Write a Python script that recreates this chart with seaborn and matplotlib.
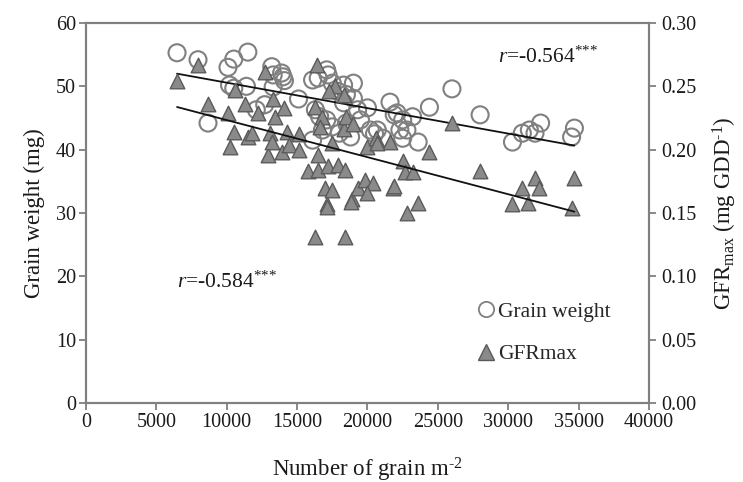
import numpy as np
import pandas as pd
import seaborn as sns
import matplotlib
matplotlib.use('Agg')
import matplotlib.pyplot as plt
from matplotlib.lines import Line2D

# grain weight (mg) vs number of grain m-2
gw_x = [6470, 7960, 10090, 10500, 11500, 10200, 10500, 11400, 8670, 12100,
        12700, 13200, 13300, 14000, 14100, 13300, 15100, 16100, 16500, 17100,
        17200, 17500, 18300, 19000, 16300, 16600, 17100, 17500, 16100, 16800,
        18300, 18500, 19300, 19500, 20000, 20200, 20700, 21600, 22100, 22500,
        22300, 19000, 18500, 17900, 26000, 21900, 22800, 22500, 23200, 23600,
        24400, 28000, 30300, 31000, 31500, 31900, 32300, 34500, 34700, 13900,
        21100, 18800, 18000, 20500]
gw_y = [55.3, 54.2, 53.0, 54.3, 55.4, 50.2, 49.7, 50.0, 44.2, 46.3,
        47.1, 53.1, 51.8, 51.5, 50.9, 49.9, 48.0, 51.0, 51.3, 52.6,
        51.8, 50.5, 50.2, 50.5, 46.3, 45.2, 44.7, 43.6, 41.5, 43.1,
        47.4, 44.2, 46.3, 44.7, 46.6, 43.1, 43.1, 47.5, 45.8, 44.7,
        43.1, 48.1, 48.7, 49.2, 49.6, 45.5, 43.1, 41.8, 45.2, 41.2,
        46.7, 45.5, 41.2, 42.6, 43.1, 42.6, 44.2, 42.0, 43.4, 52.1,
        41.8, 42.0, 42.6, 42.5]

# GFRmax (mg GDD-1) vs number of grain m-2
gfr_x = [6470, 7960, 8670, 10100, 10500, 10200, 10600, 11300, 11500, 11800,
         12200, 12700, 12900, 13300, 13400, 13100, 13200, 13900, 14100, 14300,
         14400, 15100, 15100, 15800, 16400, 16300, 16500, 16500, 16800, 17000,
         17100, 17200, 17500, 17700, 17900, 18300, 18400, 18500, 18900, 19000,
         19300, 19800, 20000, 20400, 20600, 21600, 21800, 22500, 22700, 22800,
         16300, 18400, 17100, 18800, 20000, 21900, 23200, 23600, 24400, 26000,
         28000, 30300, 31000, 31400, 31900, 32200, 34700, 34500, 17300, 18300,
         16600, 17500, 20700]
gfr_y = [0.254, 0.267, 0.236, 0.229, 0.214, 0.202, 0.247, 0.236, 0.210, 0.213,
         0.229, 0.261, 0.196, 0.240, 0.226, 0.213, 0.206, 0.198, 0.233, 0.214,
         0.204, 0.212, 0.200, 0.183, 0.267, 0.234, 0.196, 0.184, 0.226, 0.170,
         0.157, 0.187, 0.168, 0.250, 0.188, 0.216, 0.184, 0.226, 0.161, 0.220,
         0.170, 0.176, 0.202, 0.174, 0.209, 0.206, 0.170, 0.191, 0.182, 0.150,
         0.131, 0.131, 0.155, 0.159, 0.166, 0.171, 0.182, 0.158, 0.198, 0.221,
         0.183, 0.157, 0.170, 0.158, 0.178, 0.170, 0.178, 0.154, 0.246, 0.243,
         0.218, 0.205, 0.205]

gw = pd.DataFrame({'grain': gw_x, 'weight': gw_y})
gfr = pd.DataFrame({'grain': gfr_x, 'gfr': gfr_y})

sns.set_theme(style='white')
plt.rcParams['font.family'] = ['Liberation Serif', 'DejaVu Serif']
plt.rcParams['mathtext.fontset'] = 'custom'
plt.rcParams['mathtext.rm'] = 'Liberation Serif'
plt.rcParams['mathtext.it'] = 'Liberation Serif:italic'

grey = '#808080'
txt = '#1a1a1a'
fig = plt.figure(figsize=(7.43, 4.82), dpi=100)
ax = fig.add_axes([0.1157, 0.1639, 0.7578, 0.7884])
ax2 = ax.twinx()

sns.scatterplot(data=gw, x='grain', y='weight', ax=ax, marker='o', s=150,
                facecolor='none', edgecolor=grey, linewidth=1.5, zorder=3)
sns.regplot(data=gw, x='grain', y='weight', ax=ax, scatter=False, ci=None,
            truncate=True, line_kws={'color': '#111111', 'lw': 1.3, 'zorder': 4})

sns.scatterplot(data=gfr, x='grain', y='gfr', ax=ax2, marker='^', s=110,
                color='#8a8a8a', edgecolor='#5a5a5a', linewidth=1.0, zorder=3)
sns.regplot(data=gfr, x='grain', y='gfr', ax=ax2, scatter=False, ci=None,
            truncate=True, line_kws={'color': '#111111', 'lw': 1.3, 'zorder': 4})

ax.set_xlim(0, 40000)
ax.set_ylim(0, 60)
ax2.set_ylim(0, 0.30)
ax.set_xticks(range(0, 40001, 5000))
ax.set_yticks(range(0, 61, 10))
ax2.set_yticks(np.arange(0, 0.301, 0.05))
ax2.set_yticklabels(['%.2f' % t for t in np.arange(0, 0.301, 0.05)])

for a in (ax, ax2):
    for sp in a.spines.values():
        sp.set_color(grey)
        sp.set_linewidth(1.5)
    a.tick_params(colors=grey, labelcolor=txt, labelsize=14.5,
                  length=5, width=1.3, direction='out', pad=2)
ax.tick_params(axis='both', which='both', bottom=True, left=True)
ax2.tick_params(axis='y', right=True, pad=4)

ax.set_xlabel('Number of grain m$^{\\text{-2}}$', fontsize=16.5, labelpad=17, color=txt)
ax.set_ylabel('Grain weight (mg)', fontsize=16.5, labelpad=8, color=txt)
ax2.set_ylabel('GFR$_{\\mathrm{max}}$ (mg GDD$^{\\text{-1}}$)', fontsize=16.5, labelpad=10,
               color=txt)

ax.text(29300, 54.6, '$\\mathit{r}$=-0.564$^{\\text{***}}$', fontsize=15.5, va='center',
        color=txt)
ax.text(6500, 19.1, '$\\mathit{r}$=-0.584$^{\\text{***}}$', fontsize=15.5, va='center',
        color=txt)

handles = [Line2D([], [], marker='o', ls='none', markersize=11, markerfacecolor='none',
                  markeredgecolor=grey, markeredgewidth=1.3),
           Line2D([], [], marker='^', ls='none', markersize=11, markerfacecolor='#8a8a8a',
                  markeredgecolor='#5a5a5a')]
ax2.legend(handles, ['Grain weight', 'GFRmax'], loc='upper left',
           bbox_to_anchor=(0.672, 0.295), frameon=False, fontsize=15.5,
           handletextpad=0.05, handlelength=1.0, labelspacing=1.05, borderpad=0)

plt.savefig('out.png', dpi=100)
